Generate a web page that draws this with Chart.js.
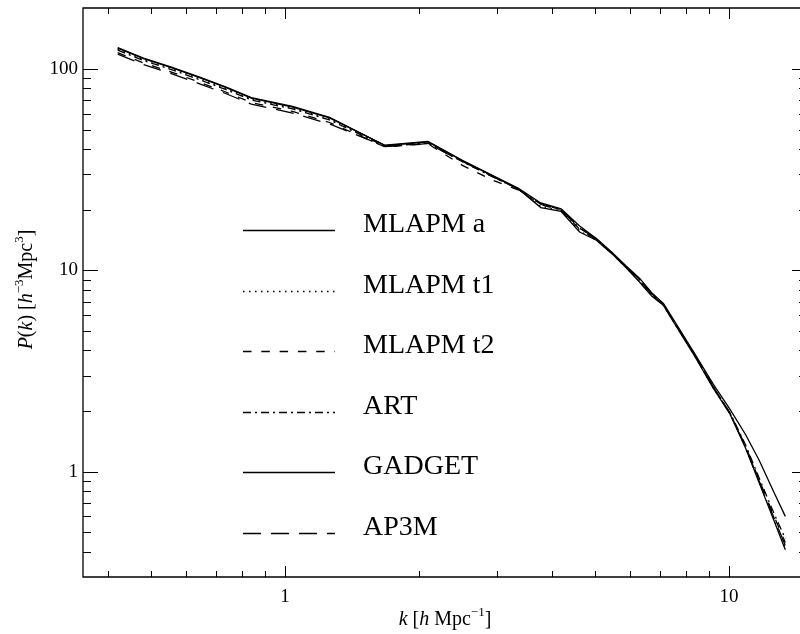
<!DOCTYPE html>
<html><head><meta charset="utf-8">
<script src="https://cdn.jsdelivr.net/npm/chart.js@4/dist/chart.umd.min.js"></script>
<style>
html,body{margin:0;padding:0;overflow:hidden;background:#fff;width:800px;height:634px}
canvas{display:block}
</style>
</head><body><canvas id="c" width="800" height="634"></canvas>
<script>
// ---- data ----
const kValues = [0.42, 0.48, 0.555, 0.64, 0.735, 0.84, 1.04, 1.26, 1.68, 2.10, 2.51, 2.93, 3.35, 3.77, 4.19, 4.61, 5.03, 5.45, 5.87, 6.29, 6.70, 7.12, 7.54, 8.38, 9.22, 10.06, 10.9, 11.7, 12.6, 13.4];
const pMlapmA  = [127.7, 113.3, 102.2, 91.2, 81.4, 72.1, 65.1, 57.4, 41.6, 43.4, 35.0, 29.5, 25.4, 20.5, 19.6, 15.5, 14.1, 12.1, 10.3, 8.75, 7.45, 6.70, 5.45, 3.74, 2.60, 1.93, 1.31, 0.88, 0.58, 0.41];
const pMlapmT1 = [125.5, 111.4, 100.5, 89.6, 80.0, 70.9, 64.0, 56.4, 41.4, 43.0, 34.8, 29.3, 25.3, 20.8, 19.7, 15.7, 14.1, 12.1, 10.3, 8.80, 7.50, 6.70, 5.45, 3.75, 2.61, 1.94, 1.32, 0.89, 0.59, 0.42];
const pMlapmT2 = [120.5, 107.0, 96.5, 86.1, 76.8, 68.1, 61.5, 54.2, 41.0, 42.5, 33.2, 28.1, 25.1, 21.2, 19.9, 16.0, 14.2, 12.2, 10.4, 8.95, 7.55, 6.75, 5.50, 3.77, 2.63, 1.95, 1.34, 0.91, 0.61, 0.445];
const pArt     = [124.1, 110.1, 99.3, 88.6, 79.1, 70.1, 63.3, 55.8, 41.3, 42.8, 34.6, 29.2, 25.3, 21.3, 20.0, 16.2, 14.3, 12.2, 10.4, 9.00, 7.60, 6.75, 5.50, 3.78, 2.64, 1.96, 1.36, 0.93, 0.63, 0.465];
const pGadget  = [126.9, 112.6, 101.6, 90.7, 80.9, 71.7, 64.7, 57.1, 41.8, 43.6, 35.2, 29.6, 25.6, 21.6, 20.2, 16.6, 14.4, 12.3, 10.5, 9.15, 7.75, 6.85, 5.60, 3.85, 2.72, 2.04, 1.53, 1.14, 0.80, 0.60];
const pAp3m    = [118.5, 105.1, 94.8, 84.6, 75.5, 66.9, 60.4, 53.3, 41.2, 42.6, 34.7, 29.3, 25.3, 21.4, 20.0, 16.3, 14.3, 12.2, 10.4, 9.05, 7.65, 6.80, 5.52, 3.80, 2.64, 1.95, 1.33, 0.90, 0.60, 0.43];
const seriesNames = ['MLAPM a', 'MLAPM t1', 'MLAPM t2', 'ART', 'GADGET', 'AP3M'];
const xTickValues = [1, 10];
const xTickLabels = ['1', '10'];
const yTickValues = [1, 10, 100];
const yTickLabels = ['1', '10', '100'];
const xMinorTicks = [0.4, 0.5, 0.6, 0.7, 0.8, 0.9, 2, 3, 4, 5, 6, 7, 8, 9];
const yMinorTicks = [0.4, 0.5, 0.6, 0.7, 0.8, 0.9, 2, 3, 4, 5, 6, 7, 8, 9, 20, 30, 40, 50, 60, 70, 80, 90];

// ---- styles ----
const seriesData = [pMlapmA, pMlapmT1, pMlapmT2, pArt, pGadget, pAp3m];
const dashes = [[], [1.5, 4.5], [8.5, 9.8], [8, 4, 2, 4], [], [18, 10]];
const SERIF = '"Liberation Serif", "DejaVu Serif", serif';

const datasets = seriesNames.map((name, i) => ({
  label: name,
  data: kValues.map((k, j) => ({x: k, y: seriesData[i][j]})),
  borderColor: '#000',
  borderWidth: 1.3,
  borderDash: dashes[i],
  pointRadius: 0,
  fill: false,
  tension: 0
}));

const zeroPad = (s) => { s.paddingTop = 0; s.paddingBottom = 0; s.paddingLeft = 0; s.paddingRight = 0; };

const decor = {
  id: 'decor',
  afterDraw(chart) {
    const ctx = chart.ctx, a = chart.chartArea;
    const xs = chart.scales.x, ys = chart.scales.y;
    const rightFrame = a.right + 7; // the plot frame lies just past the picture's right edge
    ctx.save();
    ctx.strokeStyle = '#000';
    ctx.lineWidth = 1.3;
    ctx.setLineDash([]);
    ctx.beginPath();
    ctx.moveTo(rightFrame, a.top); ctx.lineTo(a.left, a.top);
    ctx.lineTo(a.left, a.bottom); ctx.lineTo(rightFrame, a.bottom);
    ctx.stroke();
    ctx.lineWidth = 1;
    ctx.beginPath();
    const tickX = (v, len) => {
      const p = Math.round(xs.getPixelForValue(v)) + 0.5;
      ctx.moveTo(p, a.bottom); ctx.lineTo(p, a.bottom - len);
      ctx.moveTo(p, a.top); ctx.lineTo(p, a.top + len);
    };
    const tickY = (v, len) => {
      const p = Math.round(ys.getPixelForValue(v)) + 0.5;
      ctx.moveTo(a.left, p); ctx.lineTo(a.left + len, p);
      ctx.moveTo(rightFrame, p); ctx.lineTo(rightFrame - len, p);
    };
    xTickValues.forEach(v => tickX(v, 11));
    xMinorTicks.forEach(v => tickX(v, 6));
    yTickValues.forEach(v => tickY(v, 15));
    yMinorTicks.forEach(v => tickY(v, 8));
    ctx.stroke();

    // legend
    ctx.fillStyle = '#000';
    ctx.font = '28px ' + SERIF;
    ctx.textBaseline = 'alphabetic';
    ctx.textAlign = 'left';
    seriesNames.forEach((name, i) => {
      const y = 230 + i * 60.5;
      ctx.beginPath();
      ctx.lineWidth = 1.3;
      ctx.setLineDash(dashes[i]);
      ctx.moveTo(243, Math.round(y) + 0.5);
      ctx.lineTo(335, Math.round(y) + 0.5);
      ctx.stroke();
      ctx.setLineDash([]);
      ctx.fillText(name, 363, y + 2);
    });

    // axis titles
    const drawParts = (parts, baseX, baseY) => {
      let x = baseX;
      parts.forEach(p => {
        ctx.font = (p.it ? 'italic ' : '') + p.size + 'px ' + SERIF;
        ctx.fillText(p.t, x, baseY - (p.up || 0));
        x += ctx.measureText(p.t).width;
      });
    };
    const measureParts = (parts) => parts.reduce((w, p) => {
      ctx.font = (p.it ? 'italic ' : '') + p.size + 'px ' + SERIF;
      return w + ctx.measureText(p.t).width;
    }, 0);
    const xParts = [
      {t: 'k', it: true, size: 20}, {t: ' [', size: 20}, {t: 'h', it: true, size: 20},
      {t: ' Mpc', size: 20}, {t: '\u22121', size: 13, up: 9}, {t: ']', size: 20}
    ];
    const cx = (a.left + rightFrame) / 2;
    drawParts(xParts, cx - measureParts(xParts) / 2, 625);

    const yParts = [
      {t: 'P', it: true, size: 20}, {t: '(', size: 20}, {t: 'k', it: true, size: 20},
      {t: ') [', size: 20}, {t: 'h', it: true, size: 20}, {t: '\u22123', size: 13, up: 9},
      {t: 'Mpc', size: 20}, {t: '3', size: 13, up: 9}, {t: ']', size: 20}
    ];
    ctx.translate(32, (a.top + a.bottom) / 2 - 3);
    ctx.rotate(-Math.PI / 2);
    drawParts(yParts, -measureParts(yParts) / 2, 0);
    ctx.restore();
  }
};

const tickFont = {family: SERIF, size: 19};
new Chart(document.getElementById('c'), {
  type: 'line',
  data: {datasets},
  options: {
    responsive: false,
    animation: false,
    devicePixelRatio: 1,
    parsing: false,
    layout: {padding: {top: 8, right: 0, left: 0, bottom: 0}},
    plugins: {legend: {display: false}, tooltip: {enabled: false}, title: {display: false}},
    scales: {
      x: {
        type: 'logarithmic', min: 0.3508, max: 14.46,
        grid: {display: false, drawTicks: false},
        border: {display: false},
        ticks: {
          font: tickFont, color: '#000', padding: 9, maxRotation: 0, autoSkip: false,
          callback: (v) => { const i = xTickValues.indexOf(v); return i >= 0 ? xTickLabels[i] : ''; }
        },
        afterBuildTicks: (s) => { s.ticks = xTickValues.map(v => ({value: v})); },
        afterFit: (s) => { s.height = 57; zeroPad(s); }
      },
      y: {
        type: 'logarithmic', min: 0.3028, max: 200.7,
        grid: {display: false, drawTicks: false},
        border: {display: false},
        ticks: {
          font: tickFont, color: '#000', padding: 5, autoSkip: false,
          callback: (v) => { const i = yTickValues.indexOf(v); return i >= 0 ? yTickLabels[i] : ''; }
        },
        afterBuildTicks: (s) => { s.ticks = yTickValues.map(v => ({value: v})); },
        afterFit: (s) => { s.width = 83; zeroPad(s); }
      }
    }
  },
  plugins: [decor]
});
</script>
</body></html>
